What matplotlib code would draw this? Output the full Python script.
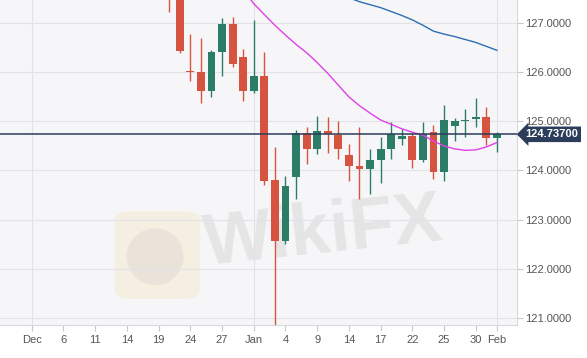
import matplotlib.pyplot as plt
import matplotlib.patches as mpatches
import numpy as np

# daily candles, index 0 = "Dec" tick
idx = list(range(13, 45))
opens = [128.00, 127.62, 126.02, 126.01, 125.62, 126.42, 126.99, 126.31, 125.63,
         125.93, 123.80, 122.57, 123.87, 124.77, 124.43, 124.80, 124.73, 124.31,
         124.10, 124.04, 124.22, 124.44, 124.64, 124.71, 124.21, 124.78, 123.96,
         124.91, 125.00, 125.04, 125.09, 124.67]
highs = [128.20, 127.80, 126.78, 126.71, 126.46, 127.10, 127.12, 126.47, 127.07,
         126.41, 124.47, 123.88, 124.82, 124.88, 125.11, 125.09, 125.01, 124.54,
         124.88, 124.43, 124.69, 124.98, 124.85, 124.77, 124.98, 124.92, 125.33,
         125.07, 125.26, 125.47, 125.30, 124.78]
lows = [127.23, 126.39, 125.83, 125.37, 125.49, 125.93, 126.10, 125.41, 125.57,
        123.71, 120.60, 122.50, 123.42, 124.13, 124.33, 124.35, 124.23, 123.79,
        123.42, 123.52, 123.74, 124.23, 124.52, 124.05, 124.18, 123.82, 123.79,
        124.60, 124.69, 124.88, 124.51, 124.38]
closes = [127.60, 126.44, 126.00, 125.63, 126.42, 126.99, 126.17, 125.63, 125.92,
          123.79, 122.57, 123.68, 124.77, 124.44, 124.80, 124.75, 124.43, 124.10,
          124.04, 124.22, 124.44, 124.74, 124.70, 124.22, 124.75, 123.96, 125.02,
          125.00, 125.03, 125.09, 124.67, 124.737]

ma_fast_idx = list(range(20, 45))
ma_fast = [127.70, 127.40, 127.18, 126.96, 126.76, 126.57, 126.40, 126.20, 125.98,
           125.74, 125.50, 125.32, 125.17, 125.03, 124.94, 124.85, 124.78, 124.72,
           124.60, 124.50, 124.44, 124.41, 124.42, 124.48, 124.57]
ma_slow_idx = list(range(29, 45))
ma_slow = [127.60, 127.52, 127.44, 127.38, 127.32, 127.24, 127.16, 127.07, 126.96,
           126.84, 126.78, 126.73, 126.67, 126.61, 126.53, 126.45]

tick_pos = [0, 3, 6, 9, 12, 15, 18, 21, 24, 27, 30, 33, 36, 39, 42, 44]
tick_labels = ["Dec", "6", "11", "14", "19", "24", "27", "Jan", "4", "9", "14",
               "17", "22", "25", "30", "Feb"]
y_ticks = [121, 122, 123, 124, 125, 126, 127]
last_price = 124.737

RED = "#d6533f"
GREEN = "#2b7d67"
NAVY = "#2b3d5b"

plt.rcParams['font.family'] = ['Liberation Sans', 'DejaVu Sans']
fig = plt.figure(figsize=(5.87, 3.58), dpi=100)
ax = fig.add_axes([0, 33 / 358, 517 / 587, 325 / 358])
ax.set_facecolor("#f6f6f8")

# watermark
ax.text(0.625, 0.28, "WikiFX", transform=ax.transAxes, fontsize=52, fontweight="bold",
        color="#dcdada", alpha=0.6, ha="center", va="center", rotation=6, zorder=0)
ax.add_patch(mpatches.FancyBboxPatch((0.222, 0.08), 0.165, 0.27, transform=ax.transAxes,
                                     boxstyle="round,pad=0.0,rounding_size=0.03",
                                     facecolor="#f3e6c0", edgecolor="none", alpha=0.4, zorder=0))
ax.add_patch(mpatches.Ellipse((0.30, 0.21), 0.11, 0.175, transform=ax.transAxes,
                              facecolor="#dcd6d3", edgecolor="none", alpha=0.45, zorder=0))

for i, o, h, l, c in zip(idx, opens, highs, lows, closes):
    col = GREEN if c >= o else RED
    ax.vlines(i, l, h, color=col, linewidth=1.0, zorder=2)
    body = max(abs(c - o), 0.03)
    ax.bar(i, body, bottom=min(o, c), width=0.74, color=col, zorder=3)

ax.plot(ma_fast_idx, ma_fast, color="#e040e8", linewidth=1.0, zorder=4)
ax.plot(ma_slow_idx, ma_slow, color="#2f6db5", linewidth=1.0, zorder=4)

ax.axhline(last_price, color=NAVY, linewidth=1.1, zorder=5)

ax.set_xlim(-3.0, 45.9)
ax.set_ylim(120.85, 127.475)
ax.set_xticks(tick_pos)
ax.set_xticklabels(tick_labels)
ax.set_yticks(y_ticks)
ax.set_yticklabels([f"{v:.4f}" for v in y_ticks])
ax.yaxis.tick_right()
ax.tick_params(axis="both", colors="#c8c8d0", labelcolor="#555555", labelsize=8,
               length=4, width=0.8)
ax.tick_params(axis="y", pad=2)
ax.tick_params(axis="x", pad=3)

ax.grid(axis="y", color="#e3e3e7", linewidth=0.8, zorder=1)
for m in [0, 21, 44]:
    ax.axvline(m, color="#e3e3e7", linewidth=0.8, zorder=1)

for s in ["top", "left"]:
    ax.spines[s].set_visible(False)
for s in ["right", "bottom"]:
    ax.spines[s].set_color("#d8d8de")
    ax.spines[s].set_linewidth(0.8)

# last price label on the right axis
ax.annotate(f"{last_price:.5f}", xy=(1.0, last_price),
            xycoords=("axes fraction", "data"), xytext=(6, 0),
            textcoords="offset points", ha="left", va="center",
            fontsize=8, fontweight="bold", color="white",
            bbox=dict(boxstyle="larrow,pad=0.25", facecolor=NAVY, edgecolor="none"),
            annotation_clip=False, zorder=6)

fig.savefig("out.png", dpi=100)
